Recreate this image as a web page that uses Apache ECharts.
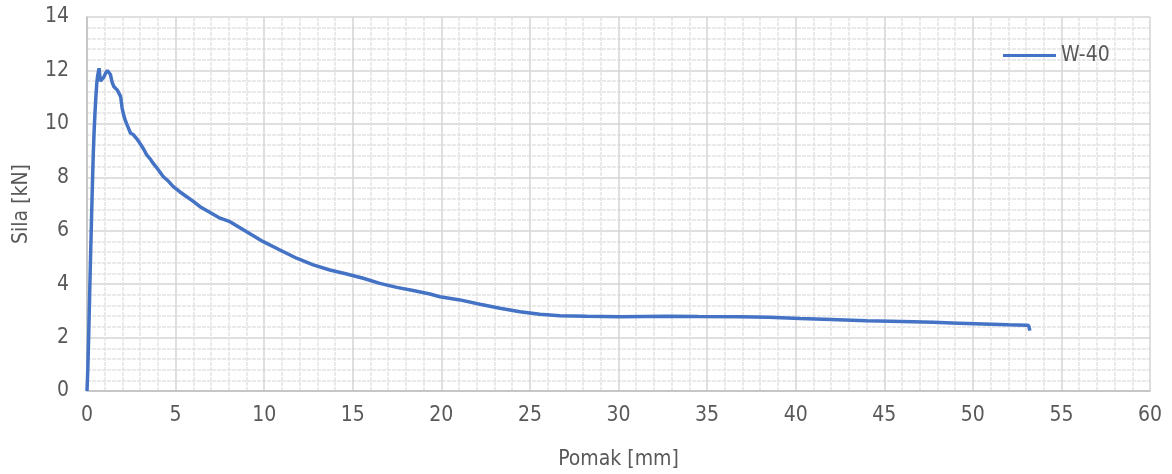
<!DOCTYPE html>
<html>
<head>
<meta charset="utf-8">
<script src="https://cdn.jsdelivr.net/npm/echarts@6/dist/echarts.min.js"></script>
<style>html,body{margin:0;padding:0;background:#fff}#c{width:1172px;height:474px}</style>
</head>
<body>
<div id="c"></div>
<script>
const seriesName = 'W-40';
const xTitle = 'Pomak [mm]';
const yTitle = 'Sila [kN]';
const pomak = [0, 0.05, 0.1, 0.15, 0.2, 0.25, 0.3, 0.35, 0.4, 0.45, 0.5, 0.55, 0.6, 0.68, 0.75, 0.86, 0.95, 1.05, 1.15, 1.24, 1.32, 1.42, 1.52, 1.71, 1.9, 1.98, 2.08, 2.18, 2.24, 2.46, 2.61, 2.8, 2.99, 3.2, 3.37, 3.55, 3.74, 4.0, 4.31, 4.6, 4.87, 5.25, 5.63, 6.0, 6.38, 6.95, 7.51, 8.07, 9.01, 9.95, 10.89, 11.83, 12.77, 13.71, 14.66, 15.59, 16.53, 17.48, 18.41, 19.36, 19.92, 21.05, 22.18, 23.31, 24.44, 25.56, 26.69, 28.2, 30.08, 32.71, 34.5, 36.85, 38.5, 40.24, 42.0, 44.0, 46.0, 47.76, 49.2, 50.58, 52.0, 53.03, 53.15, 53.22];
const sila = [0, 0.9, 2.2, 3.6, 5.0, 6.3, 7.6, 8.8, 9.7, 10.4, 11.0, 11.5, 11.8, 12.08, 11.6, 11.58, 11.75, 11.9, 12.0, 11.95, 11.85, 11.55, 11.39, 11.27, 11.02, 10.6, 10.3, 10.1, 10.0, 9.65, 9.6, 9.45, 9.27, 9.05, 8.84, 8.7, 8.52, 8.3, 8.02, 7.85, 7.65, 7.45, 7.27, 7.1, 6.9, 6.68, 6.47, 6.34, 5.96, 5.59, 5.28, 4.97, 4.72, 4.53, 4.38, 4.22, 4.03, 3.88, 3.76, 3.63, 3.53, 3.41, 3.25, 3.1, 2.97, 2.87, 2.82, 2.8, 2.78, 2.8, 2.79, 2.78, 2.76, 2.71, 2.68, 2.63, 2.6, 2.57, 2.54, 2.51, 2.48, 2.46, 2.45, 2.26];
const xTicks = {min: 0, max: 60, interval: 5};
const yTicks = {min: 0, max: 14, interval: 2};

const data = pomak.map((x, i) => [x, sila[i]]);
const font = '"DejaVu Sans Condensed", "Liberation Sans", sans-serif';
const fs = 21;
const chart = echarts.init(document.getElementById('c'));
chart.setOption({
  animation: false,
  backgroundColor: '#fff',
  textStyle: {fontFamily: font},
  grid: {left: 87, right: 22, top: 17, bottom: 83, containLabel: false, outerBoundsMode: 'none'},
  legend: {
    data: [seriesName], left: 998, top: 40,
    icon: 'rect', itemWidth: 53, itemHeight: 3, itemGap: 4,
    textStyle: {fontFamily: font, fontSize: fs, color: '#595959'}
  },
  xAxis: {
    type: 'value', min: xTicks.min, max: xTicks.max, interval: xTicks.interval,
    name: xTitle, nameLocation: 'middle', nameGap: 58,
    nameTextStyle: {fontFamily: font, fontSize: fs, color: '#595959'},
    axisLine: {show: true, lineStyle: {color: '#bfbfbf', width: 1.5}},
    axisTick: {show: false},
    axisLabel: {fontFamily: font, fontSize: fs, color: '#595959', margin: 14},
    splitLine: {show: true, lineStyle: {color: '#d4d4d4', width: 1.5}},
    minorTick: {show: false, splitNumber: 5},
    minorSplitLine: {show: true, lineStyle: {color: '#e3e3e3', width: 1.5, type: [4, 1]}}
  },
  yAxis: {
    type: 'value', min: yTicks.min, max: yTicks.max, interval: yTicks.interval,
    name: yTitle, nameLocation: 'middle', nameGap: 55, nameRotate: 90,
    nameTextStyle: {fontFamily: font, fontSize: fs, color: '#595959'},
    axisLine: {show: true, lineStyle: {color: '#bfbfbf', width: 1.5}},
    axisTick: {show: false},
    axisLabel: {fontFamily: font, fontSize: fs, color: '#595959', margin: 18},
    splitLine: {show: true, lineStyle: {color: '#d4d4d4', width: 1.5}},
    minorTick: {show: false, splitNumber: 5},
    minorSplitLine: {show: true, lineStyle: {color: '#e3e3e3', width: 1.5, type: [4, 1]}}
  },
  series: [{
    name: seriesName, type: 'line', data: data, showSymbol: false, symbol: 'none',
    lineStyle: {color: '#4472c4', width: 3.5}, itemStyle: {color: '#4472c4'}
  }]
});
</script>
</body>
</html>
